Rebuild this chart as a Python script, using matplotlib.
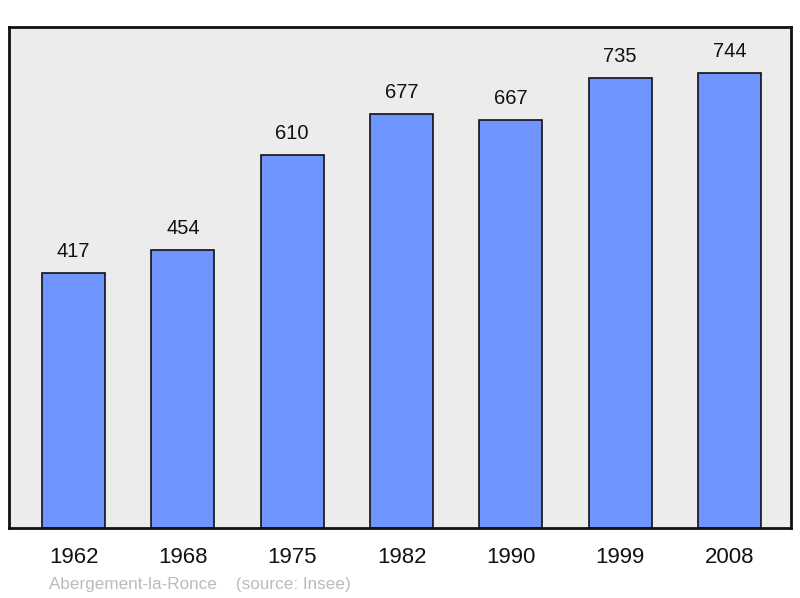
import matplotlib.pyplot as plt

plt.rcParams['font.family'] = ['Liberation Sans', 'DejaVu Sans']

years = ["1962", "1968", "1975", "1982", "1990", "1999", "2008"]
population = [417, 454, 610, 677, 667, 735, 744]

fig = plt.figure(figsize=(8, 5.98), dpi=100)
# axes box in pixels: left 8.5, right 791, top 27, bottom 528
W, H = 800, 598
ax = fig.add_axes([8.5 / W, (H - 528) / H, (791 - 8.5) / W, (528 - 27) / H])
ax.set_facecolor("#ececec")

x = list(range(len(years)))
ax.bar(x, population, width=0.576, color="#7095ff", edgecolor="#111111", linewidth=1.2, zorder=2)

for xi, v in zip(x, population):
    ax.text(xi, v + 20, str(v), ha="center", va="bottom", fontsize=14.5, color="#111111")

ax.set_xlim(-0.595, len(years) - 1 + 0.5625)
ax.set_ylim(0, 819)
ax.set_xticks(x)
ax.set_xticklabels(years, fontsize=16, color="#111111")
ax.tick_params(axis="x", length=0, pad=14)
ax.set_yticks([])
for s in ax.spines.values():
    s.set_linewidth(2)
    s.set_color("#111111")

fig.text(49 / W, 1 - 584 / H, "Abergement-la-Ronce    (source: Insee)", fontsize=12.3,
         color="#bbbbbb", ha="left", va="center")

fig.savefig("out.png", dpi=100)
